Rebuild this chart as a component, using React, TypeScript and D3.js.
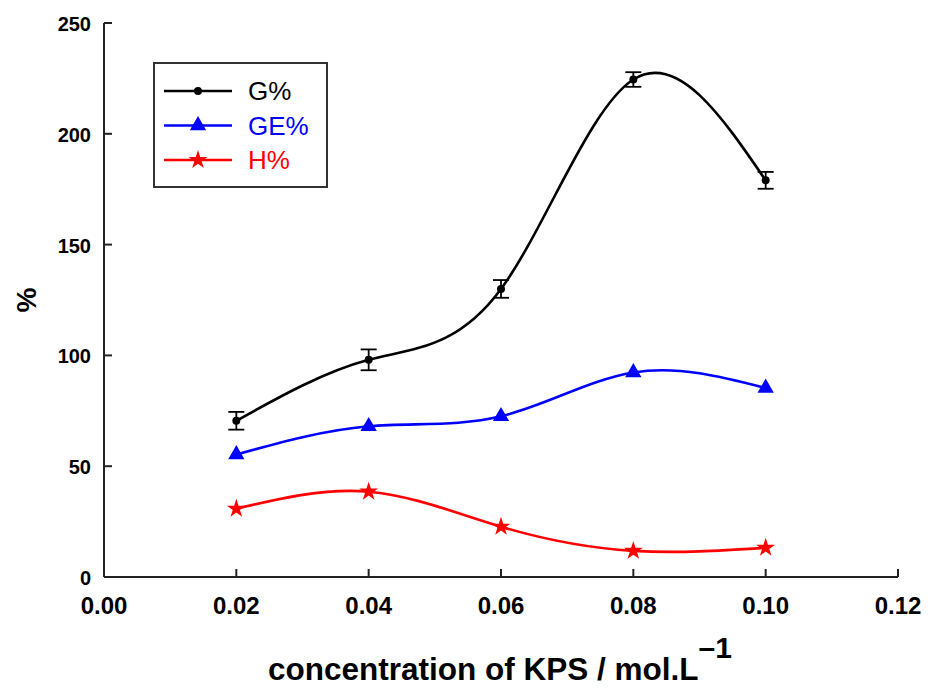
import React from "react";
import * as d3 from "d3";

const xValues = [0.02, 0.04, 0.06, 0.08, 0.1];
const gValues = [70.5, 98, 130, 224.5, 179];
const gErrors = [4, 4.7, 4, 3.3, 3.8];
const geValues = [55.3, 68, 72.5, 92.3, 85.3];
const hValues = [30.8, 38.5, 22.7, 11.8, 13.2];
const xTicks = [0, 0.02, 0.04, 0.06, 0.08, 0.1, 0.12];
const yTicks = [0, 50, 100, 150, 200, 250];
const seriesNames = ["G%", "GE%", "H%"];
const seriesColors = ["#000000", "#0000ff", "#ff0000"];

const FONT = "Arial, 'Liberation Sans', sans-serif";

export default function App() {
  const W = 928, H = 688;
  const x = d3.scaleLinear().domain([0, 0.12]).range([104, 898]);
  const y = d3.scaleLinear().domain([0, 250]).range([577, 23]);
  const line = d3
    .line<[number, number]>()
    .x((d) => x(d[0]))
    .y((d) => y(d[1]))
    .curve(d3.curveNatural);

  const series = [gValues, geValues, hValues];
  const circle = d3.symbol().type(d3.symbolCircle).size(50)()!;
  const tri = d3.symbol().type(d3.symbolTriangle).size(115)()!;
  const star = d3.symbol().type(d3.symbolStar).size(110)()!;
  const markers = [circle, tri, star];

  return (
    <svg width={W} height={H} style={{ position: "absolute", left: 0, top: 0, background: "#fff" }}>
      <rect x={0} y={0} width={W} height={H} fill="#fff" />
      {/* axes */}
      <line x1={x(0)} x2={x(0)} y1={y(250)} y2={y(0)} stroke="#222" strokeWidth={2} />
      <line x1={x(0)} x2={x(0.12)} y1={y(0)} y2={y(0)} stroke="#222" strokeWidth={2} />
      {yTicks.map((t) => (
        <g key={"y" + t}>
          <line x1={x(0)} x2={x(0) + 8} y1={y(t)} y2={y(t)} stroke="#222" strokeWidth={2} />
          <text
            x={91}
            y={y(t) + 8}
            textAnchor="end"
            fontFamily={FONT}
            fontWeight="bold"
            fontSize={20}
            fill="#000"
          >
            {t}
          </text>
        </g>
      ))}
      {xTicks.map((t) => (
        <g key={"x" + t}>
          <line x1={x(t)} x2={x(t)} y1={y(0)} y2={y(0) - 8} stroke="#222" strokeWidth={2} />
          <text
            x={x(t)}
            y={614}
            textAnchor="middle"
            fontFamily={FONT}
            fontWeight="bold"
            fontSize={24}
            fill="#000"
          >
            {t.toFixed(2)}
          </text>
        </g>
      ))}
      {/* axis titles */}
      <text
        x={268}
        y={680}
        fontFamily={FONT}
        fontWeight="bold"
        fontSize={31.5}
        fill="#000"
      >
        concentration of KPS / mol.L
        <tspan dy={-22} fontSize={30}>{"\u20131"}</tspan>
      </text>
      <text
        transform="translate(36,300) rotate(-90)"
        textAnchor="middle"
        fontFamily={FONT}
        fontWeight="bold"
        fontSize={28}
        fill="#000"
      >
        %
      </text>
      {/* series lines */}
      {series.map((vals, i) => (
        <path
          key={"l" + i}
          d={line(xValues.map((xv, j) => [xv, vals[j]] as [number, number]))!}
          fill="none"
          stroke={seriesColors[i]}
          strokeWidth={2.6}
        />
      ))}
      {/* error bars for G */}
      {xValues.map((xv, j) => (
        <g key={"e" + j} stroke="#000" strokeWidth={1.8}>
          <line x1={x(xv)} x2={x(xv)} y1={y(gValues[j] + gErrors[j])} y2={y(gValues[j] - gErrors[j])} />
          <line x1={x(xv) - 8} x2={x(xv) + 8} y1={y(gValues[j] + gErrors[j])} y2={y(gValues[j] + gErrors[j])} />
          <line x1={x(xv) - 8} x2={x(xv) + 8} y1={y(gValues[j] - gErrors[j])} y2={y(gValues[j] - gErrors[j])} />
        </g>
      ))}
      {/* markers */}
      {series.map((vals, i) =>
        xValues.map((xv, j) => (
          <path
            key={"m" + i + "-" + j}
            d={markers[i]}
            transform={`translate(${x(xv)},${y(vals[j])})`}
            fill={seriesColors[i]}
          />
        ))
      )}
      {/* legend */}
      <rect x={154} y={63} width={173} height={124} fill="#fff" stroke="#333" strokeWidth={2} />
      {seriesNames.map((name, i) => {
        const ly = 91 + i * 34.5;
        return (
          <g key={"lg" + i}>
            <line x1={164} x2={232} y1={ly} y2={ly} stroke={seriesColors[i]} strokeWidth={2.6} />
            <path d={markers[i]} transform={`translate(198,${ly})`} fill={seriesColors[i]} />
            <text x={248} y={ly + 9} fontFamily={FONT} fontSize={26} fill={seriesColors[i]}>
              {name}
            </text>
          </g>
        );
      })}
    </svg>
  );
}
